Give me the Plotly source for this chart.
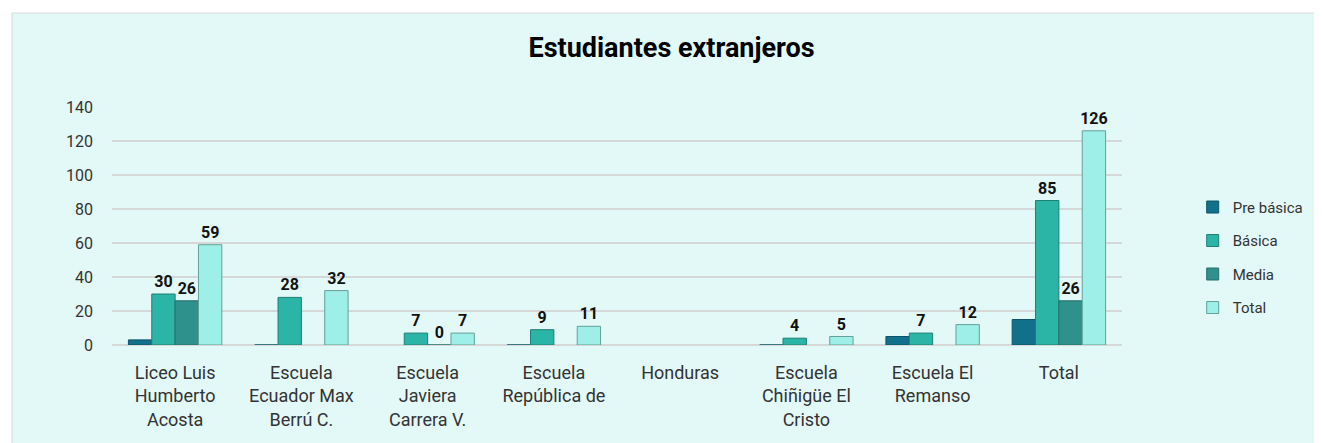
import plotly.graph_objects as go

# Datos
escuelas = ["Liceo Luis<br>Humberto<br>Acosta", "Escuela<br>Ecuador Max<br>Berrú C.",
            "Escuela<br>Javiera<br>Carrera V.", "Escuela<br>República de", "Honduras",
            "Escuela<br>Chiñigüe El<br>Cristo", "Escuela El<br>Remanso", "Total"]

pre_basica = [3, 0, None, 0, None, 0, 5, 15]
basica = [30, 28, 7, 9, None, 4, 7, 85]
media = [26, None, 0, None, None, None, None, 26]
total = [59, 32, 7, 11, None, 5, 12, 126]

colores = {"Pre básica": "#11708A", "Básica": "#2BB5A6", "Media": "#2F918C", "Total": "#9DEFE8"}
lineas = {"Pre básica": "#0B5467", "Básica": "#1E7F73", "Media": "#246F6B", "Total": "#62A197"}

fig = go.Figure()

series = [("Pre básica", pre_basica, False), ("Básica", basica, True),
          ("Media", media, True), ("Total", total, True)]

for nombre, valores, etiqueta in series:
    fig.add_trace(go.Bar(
        x=escuelas, y=valores, name=nombre, legendgroup=nombre,
        marker=dict(color=colores[nombre], line=dict(color=lineas[nombre], width=1)),
        text=[("" if v is None else str(v)) for v in valores] if etiqueta else None,
        textposition="outside", cliponaxis=False, constraintext="none",
        textfont=dict(family="Roboto", size=16, color="#111111", weight="bold"),
    ))

# la página tiene 8 px de margen propio, por eso 1314x435
W, H = 1314, 435
L, R, T, B = 104, 200, 99, 98
pw, ph = W - L - R, H - T - B

fig.update_layout(
    title=dict(text="<b>Estudiantes extranjeros</b>", x=0.505, xanchor="center",
               y=1 - 40 / H, yanchor="middle",
               font=dict(family="Roboto", size=27, color="#000000")),
    width=W, height=H,
    margin=dict(l=L, r=R, t=T, b=B, autoexpand=False),
    paper_bgcolor="#E3F9F8", plot_bgcolor="#E3F9F8",
    barmode="group", bargap=0.26, bargroupgap=0,
    font=dict(family="Roboto", size=16, color="#333333"),
    legend=dict(x=1.07, y=0.648, xanchor="left", yanchor="top", tracegroupgap=11,
                font=dict(family="Roboto", size=15, color="#333333"),
                bgcolor="rgba(0,0,0,0)", itemwidth=30),
    showlegend=True,
)

fig.update_yaxes(range=[0, 140], dtick=20, showgrid=True, gridcolor="#D6D8D8", gridwidth=2,
                 zeroline=True, zerolinecolor="#D6D8D8", zerolinewidth=2,
                 tickfont=dict(size=16, color="#333333"), ticklabelstandoff=18,
                 showline=False)
fig.update_xaxes(showline=False, tickfont=dict(size=18, color="#333333"),
                 ticklabelstandoff=15, range=[-0.5, 7.5])

# marco blanco arriba e izquierda y borde gris
fig.add_shape(type="rect", xref="paper", yref="paper",
              x0=-L / pw, x1=(4 - L) / pw, y0=-B / ph, y1=(ph + T) / ph,
              fillcolor="#FFFFFF", line=dict(width=0), layer="below")
fig.add_shape(type="rect", xref="paper", yref="paper",
              x0=-L / pw, x1=(W - L) / pw, y0=(ph + T - 5) / ph, y1=(ph + T) / ph,
              fillcolor="#FFFFFF", line=dict(width=0), layer="below")
fig.add_shape(type="rect", xref="paper", yref="paper",
              x0=(4 - L) / pw, x1=(W - L + 2) / pw, y0=-(B + 2) / ph, y1=(ph + T - 5) / ph,
              fillcolor="rgba(0,0,0,0)", line=dict(color="#D9D9D9", width=1), layer="below")

fig.write_html("out.html")
